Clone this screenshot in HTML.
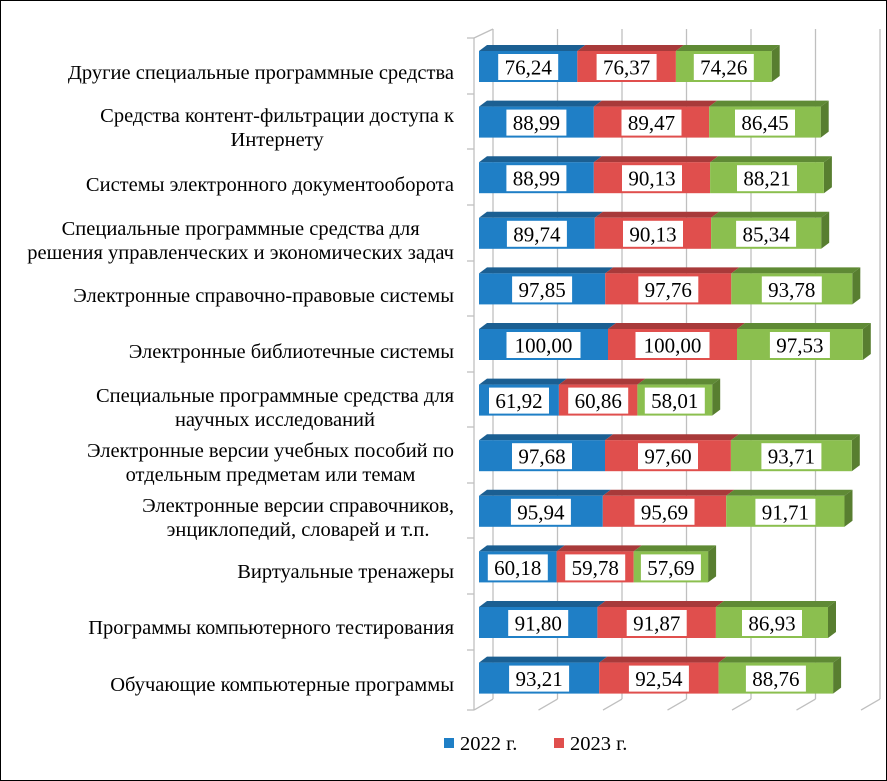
<!DOCTYPE html>
<html><head><meta charset="utf-8"><style>
html,body{margin:0;padding:0;background:#fff}
#c{position:relative;width:885px;height:779px;border:1px solid #000;overflow:hidden;font-family:"Liberation Serif",serif}
.l{position:absolute;right:432px;text-align:center;font-size:20.5px;line-height:24px;color:#000;white-space:nowrap}
svg{position:absolute;left:0;top:0}
</style></head><body><div id="c">
<svg width="887" height="781" font-family="Liberation Serif, serif">
<g stroke="#bfbfbf" stroke-width="1.3" fill="none">
<line x1="492" y1="28" x2="492" y2="698"/><line x1="556.5" y1="28" x2="556.5" y2="698"/><line x1="621" y1="28" x2="621" y2="698"/><line x1="685.5" y1="28" x2="685.5" y2="698"/><line x1="750" y1="28" x2="750" y2="698"/><line x1="814.5" y1="28" x2="814.5" y2="698"/><line x1="879" y1="28" x2="879" y2="698"/>
<line x1="473" y1="37" x2="473" y2="709"/><line x1="473" y1="37" x2="492" y2="28"/>
<line x1="473" y1="709" x2="492" y2="698"/><line x1="537.5" y1="709" x2="556.5" y2="698"/><line x1="602" y1="709" x2="621" y2="698"/><line x1="666.5" y1="709" x2="685.5" y2="698"/><line x1="731" y1="709" x2="750" y2="698"/><line x1="795.5" y1="709" x2="814.5" y2="698"/><line x1="860" y1="709" x2="879" y2="698"/>
<line x1="466" y1="37" x2="473" y2="37"/><line x1="466" y1="93" x2="473" y2="93"/><line x1="466" y1="148" x2="473" y2="148"/><line x1="466" y1="204" x2="473" y2="204"/><line x1="466" y1="260" x2="473" y2="260"/><line x1="466" y1="315" x2="473" y2="315"/><line x1="466" y1="371" x2="473" y2="371"/><line x1="466" y1="426" x2="473" y2="426"/><line x1="466" y1="482" x2="473" y2="482"/><line x1="466" y1="537" x2="473" y2="537"/><line x1="466" y1="593" x2="473" y2="593"/><line x1="466" y1="649" x2="473" y2="649"/><line x1="466" y1="709" x2="473" y2="709"/>
</g>
<defs>
<style>.bt{fill:#1b5f92}.rt{fill:#a83a3a}.gt{fill:#5f8a35}.gs{fill:#587e30}.bf{fill:#1f7fc6}.rf{fill:#e04f4d}.gf{fill:#8bbf4f}.bx{fill:#fff}.t{font-size:21px;text-anchor:middle;fill:#000}</style>
</defs>
<g transform="translate(0,50)"><polygon class="bt" points="478,0 486,-6 584.3,-6 576.3,0"/><polygon class="rt" points="576.3,0 584.3,-6 682.9,-6 674.9,0"/><polygon class="gt" points="674.9,0 682.9,-6 778.7,-6 770.7,0"/><polygon class="gs" points="770.7,0 778.7,-6 778.7,25 770.7,31"/><rect class="bf" x="478" y="0" width="98.3" height="31"/><rect class="rf" x="576.3" y="0" width="98.6" height="31"/><rect class="gf" x="674.9" y="0" width="95.8" height="31"/><rect class="bx" x="497.2" y="3" width="60" height="26"/><rect class="bx" x="595.6" y="3" width="60" height="26"/><rect class="bx" x="692.8" y="3" width="60" height="26"/><text class="t" x="527.2" y="23.5">76,24</text><text class="t" x="625.6" y="23.5">76,37</text><text class="t" x="722.8" y="23.5">74,26</text></g>
<g transform="translate(0,105.6)"><polygon class="bt" points="478,0 486,-6 600.8,-6 592.8,0"/><polygon class="rt" points="592.8,0 600.8,-6 716.2,-6 708.2,0"/><polygon class="gt" points="708.2,0 716.2,-6 827.7,-6 819.7,0"/><polygon class="gs" points="819.7,0 827.7,-6 827.7,25 819.7,31"/><rect class="bf" x="478" y="0" width="114.8" height="31"/><rect class="rf" x="592.8" y="0" width="115.4" height="31"/><rect class="gf" x="708.2" y="0" width="111.5" height="31"/><rect class="bx" x="505.4" y="3" width="60" height="26"/><rect class="bx" x="620.5" y="3" width="60" height="26"/><rect class="bx" x="734" y="3" width="60" height="26"/><text class="t" x="535.4" y="23.5">88,99</text><text class="t" x="650.5" y="23.5">89,47</text><text class="t" x="764" y="23.5">86,45</text></g>
<g transform="translate(0,161.2)"><polygon class="bt" points="478,0 486,-6 600.8,-6 592.8,0"/><polygon class="rt" points="592.8,0 600.8,-6 717.1,-6 709.1,0"/><polygon class="gt" points="709.1,0 717.1,-6 830.9,-6 822.9,0"/><polygon class="gs" points="822.9,0 830.9,-6 830.9,25 822.9,31"/><rect class="bf" x="478" y="0" width="114.8" height="31"/><rect class="rf" x="592.8" y="0" width="116.3" height="31"/><rect class="gf" x="709.1" y="0" width="113.8" height="31"/><rect class="bx" x="505.4" y="3" width="60" height="26"/><rect class="bx" x="621" y="3" width="60" height="26"/><rect class="bx" x="736" y="3" width="60" height="26"/><text class="t" x="535.4" y="23.5">88,99</text><text class="t" x="651" y="23.5">90,13</text><text class="t" x="766" y="23.5">88,21</text></g>
<g transform="translate(0,216.8)"><polygon class="bt" points="478,0 486,-6 601.8,-6 593.8,0"/><polygon class="rt" points="593.8,0 601.8,-6 718.1,-6 710.1,0"/><polygon class="gt" points="710.1,0 718.1,-6 828.2,-6 820.2,0"/><polygon class="gs" points="820.2,0 828.2,-6 828.2,25 820.2,31"/><rect class="bf" x="478" y="0" width="115.8" height="31"/><rect class="rf" x="593.8" y="0" width="116.3" height="31"/><rect class="gf" x="710.1" y="0" width="110.1" height="31"/><rect class="bx" x="505.9" y="3" width="60" height="26"/><rect class="bx" x="622" y="3" width="60" height="26"/><rect class="bx" x="735.1" y="3" width="60" height="26"/><text class="t" x="535.9" y="23.5">89,74</text><text class="t" x="652" y="23.5">90,13</text><text class="t" x="765.1" y="23.5">85,34</text></g>
<g transform="translate(0,272.4)"><polygon class="bt" points="478,0 486,-6 612.2,-6 604.2,0"/><polygon class="rt" points="604.2,0 612.2,-6 738.3,-6 730.3,0"/><polygon class="gt" points="730.3,0 738.3,-6 859.3,-6 851.3,0"/><polygon class="gs" points="851.3,0 859.3,-6 859.3,25 851.3,31"/><rect class="bf" x="478" y="0" width="126.2" height="31"/><rect class="rf" x="604.2" y="0" width="126.1" height="31"/><rect class="gf" x="730.3" y="0" width="121" height="31"/><rect class="bx" x="511.1" y="3" width="60" height="26"/><rect class="bx" x="637.3" y="3" width="60" height="26"/><rect class="bx" x="760.8" y="3" width="60" height="26"/><text class="t" x="541.1" y="23.5">97,85</text><text class="t" x="667.3" y="23.5">97,76</text><text class="t" x="790.8" y="23.5">93,78</text></g>
<g transform="translate(0,328)"><polygon class="bt" points="478,0 486,-6 615,-6 607,0"/><polygon class="rt" points="607,0 615,-6 744,-6 736,0"/><polygon class="gt" points="736,0 744,-6 869.8,-6 861.8,0"/><polygon class="gs" points="861.8,0 869.8,-6 869.8,25 861.8,31"/><rect class="bf" x="478" y="0" width="129" height="31"/><rect class="rf" x="607" y="0" width="129" height="31"/><rect class="gf" x="736" y="0" width="125.8" height="31"/><rect class="bx" x="505.5" y="3" width="74" height="26"/><rect class="bx" x="634.5" y="3" width="74" height="26"/><rect class="bx" x="768.9" y="3" width="60" height="26"/><text class="t" x="542.5" y="23.5">100,00</text><text class="t" x="671.5" y="23.5">100,00</text><text class="t" x="798.9" y="23.5">97,53</text></g>
<g transform="translate(0,383.6)"><polygon class="bt" points="478,0 486,-6 565.9,-6 557.9,0"/><polygon class="rt" points="557.9,0 565.9,-6 644.4,-6 636.4,0"/><polygon class="gt" points="636.4,0 644.4,-6 719.2,-6 711.2,0"/><polygon class="gs" points="711.2,0 719.2,-6 719.2,25 711.2,31"/><rect class="bf" x="478" y="0" width="79.9" height="31"/><rect class="rf" x="557.9" y="0" width="78.5" height="31"/><rect class="gf" x="636.4" y="0" width="74.8" height="31"/><rect class="bx" x="488" y="3" width="60" height="26"/><rect class="bx" x="567.2" y="3" width="60" height="26"/><rect class="bx" x="643.8" y="3" width="60" height="26"/><text class="t" x="518" y="23.5">61,92</text><text class="t" x="597.2" y="23.5">60,86</text><text class="t" x="673.8" y="23.5">58,01</text></g>
<g transform="translate(0,439.2)"><polygon class="bt" points="478,0 486,-6 612,-6 604,0"/><polygon class="rt" points="604,0 612,-6 737.9,-6 729.9,0"/><polygon class="gt" points="729.9,0 737.9,-6 858.8,-6 850.8,0"/><polygon class="gs" points="850.8,0 858.8,-6 858.8,25 850.8,31"/><rect class="bf" x="478" y="0" width="126" height="31"/><rect class="rf" x="604" y="0" width="125.9" height="31"/><rect class="gf" x="729.9" y="0" width="120.9" height="31"/><rect class="bx" x="511" y="3" width="60" height="26"/><rect class="bx" x="637" y="3" width="60" height="26"/><rect class="bx" x="760.4" y="3" width="60" height="26"/><text class="t" x="541" y="23.5">97,68</text><text class="t" x="667" y="23.5">97,60</text><text class="t" x="790.4" y="23.5">93,71</text></g>
<g transform="translate(0,494.8)"><polygon class="bt" points="478,0 486,-6 609.8,-6 601.8,0"/><polygon class="rt" points="601.8,0 609.8,-6 733.2,-6 725.2,0"/><polygon class="gt" points="725.2,0 733.2,-6 851.5,-6 843.5,0"/><polygon class="gs" points="843.5,0 851.5,-6 851.5,25 843.5,31"/><rect class="bf" x="478" y="0" width="123.8" height="31"/><rect class="rf" x="601.8" y="0" width="123.4" height="31"/><rect class="gf" x="725.2" y="0" width="118.3" height="31"/><rect class="bx" x="509.9" y="3" width="60" height="26"/><rect class="bx" x="633.5" y="3" width="60" height="26"/><rect class="bx" x="754.4" y="3" width="60" height="26"/><text class="t" x="539.9" y="23.5">95,94</text><text class="t" x="663.5" y="23.5">95,69</text><text class="t" x="784.4" y="23.5">91,71</text></g>
<g transform="translate(0,550.4)"><polygon class="bt" points="478,0 486,-6 563.6,-6 555.6,0"/><polygon class="rt" points="555.6,0 563.6,-6 640.7,-6 632.7,0"/><polygon class="gt" points="632.7,0 640.7,-6 715.1,-6 707.1,0"/><polygon class="gs" points="707.1,0 715.1,-6 715.1,25 707.1,31"/><rect class="bf" x="478" y="0" width="77.6" height="31"/><rect class="rf" x="555.6" y="0" width="77.1" height="31"/><rect class="gf" x="632.7" y="0" width="74.4" height="31"/><rect class="bx" x="486.8" y="3" width="60" height="26"/><rect class="bx" x="564.2" y="3" width="60" height="26"/><rect class="bx" x="639.9" y="3" width="60" height="26"/><text class="t" x="516.8" y="23.5">60,18</text><text class="t" x="594.2" y="23.5">59,78</text><text class="t" x="669.9" y="23.5">57,69</text></g>
<g transform="translate(0,606)"><polygon class="bt" points="478,0 486,-6 604.4,-6 596.4,0"/><polygon class="rt" points="596.4,0 604.4,-6 722.9,-6 714.9,0"/><polygon class="gt" points="714.9,0 722.9,-6 835,-6 827,0"/><polygon class="gs" points="827,0 835,-6 835,25 827,31"/><rect class="bf" x="478" y="0" width="118.4" height="31"/><rect class="rf" x="596.4" y="0" width="118.5" height="31"/><rect class="gf" x="714.9" y="0" width="112.1" height="31"/><rect class="bx" x="507.2" y="3" width="60" height="26"/><rect class="bx" x="625.7" y="3" width="60" height="26"/><rect class="bx" x="741" y="3" width="60" height="26"/><text class="t" x="537.2" y="23.5">91,80</text><text class="t" x="655.7" y="23.5">91,87</text><text class="t" x="771" y="23.5">86,93</text></g>
<g transform="translate(0,661.6)"><polygon class="bt" points="478,0 486,-6 606.2,-6 598.2,0"/><polygon class="rt" points="598.2,0 606.2,-6 725.6,-6 717.6,0"/><polygon class="gt" points="717.6,0 725.6,-6 840.1,-6 832.1,0"/><polygon class="gs" points="832.1,0 840.1,-6 840.1,25 832.1,31"/><rect class="bf" x="478" y="0" width="120.2" height="31"/><rect class="rf" x="598.2" y="0" width="119.4" height="31"/><rect class="gf" x="717.6" y="0" width="114.5" height="31"/><rect class="bx" x="508.1" y="3" width="60" height="26"/><rect class="bx" x="627.9" y="3" width="60" height="26"/><rect class="bx" x="744.9" y="3" width="60" height="26"/><text class="t" x="538.1" y="23.5">93,21</text><text class="t" x="657.9" y="23.5">92,54</text><text class="t" x="774.9" y="23.5">88,76</text></g>
<rect x="443" y="737" width="10" height="10" fill="#1f7fc6"/><text x="459" y="749" font-size="20.5">2022 г.</text>
<rect x="553" y="737" width="10" height="10" fill="#e04f4d"/><text x="569" y="749" font-size="20.5">2023 г.</text>
</svg>
<div class="l" style="top:60px">Другие специальные программные средства</div>
<div class="l" style="top:103px">Средства контент-фильтрации доступа к<br>Интернету</div>
<div class="l" style="top:172px">Системы электронного документооборота</div>
<div class="l" style="top:216px">Специальные программные средства для<br>решения управленческих и экономических задач</div>
<div class="l" style="top:283px">Электронные справочно-правовые системы</div>
<div class="l" style="top:339px">Электронные библиотечные системы</div>
<div class="l" style="top:383px">Специальные программные средства для<br>научных исследований</div>
<div class="l" style="top:438px">Электронные версии учебных пособий по<br>отдельным предметам или темам</div>
<div class="l" style="top:493px">Электронные версии справочников,<br>энциклопедий, словарей и т.п.</div>
<div class="l" style="top:559px">Виртуальные тренажеры</div>
<div class="l" style="top:615px">Программы компьютерного тестирования</div>
<div class="l" style="top:672px">Обучающие компьютерные программы</div>
</div></body></html>
